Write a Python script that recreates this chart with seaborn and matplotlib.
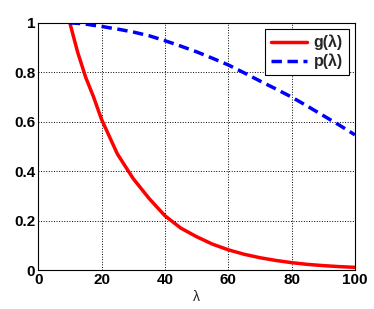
import pandas as pd
import numpy as np
import seaborn as sns
import matplotlib
matplotlib.use('Agg')
import matplotlib.pyplot as plt

# values
lam = [10, 12.5, 15, 17.5, 20, 22.5, 25, 30, 35, 40, 45, 50, 55, 60, 65, 70, 75, 80, 85, 90, 95, 100]
g_vals = [1.0, 0.88, 0.78, 0.70, 0.61, 0.54, 0.47, 0.37, 0.29, 0.22, 0.17, 0.135, 0.105, 0.082,
          0.064, 0.05, 0.039, 0.03, 0.023, 0.018, 0.014, 0.011]
p_vals = [1.0, 0.998, 0.995, 0.99, 0.986, 0.98, 0.975, 0.963, 0.948, 0.928, 0.906, 0.883, 0.857, 0.83,
          0.798, 0.765, 0.733, 0.70, 0.663, 0.625, 0.587, 0.547]

df = pd.DataFrame({'lam': lam, 'g': g_vals, 'p': p_vals})

sns.set_style("white")
plt.rcParams['font.family'] = ['Liberation Sans', 'DejaVu Sans']

fig = plt.figure(figsize=(3.74, 3.09), dpi=100)
ax = fig.add_axes([0.102, 0.126, 0.847, 0.800])

sns.lineplot(data=df, x='lam', y='g', ax=ax, color='#ff0000', linewidth=2.5, label='g(λ)')
sns.lineplot(data=df, x='lam', y='p', ax=ax, color='#0000ff', linewidth=2.5,
             linestyle=(0, (3, 1.6)), label='p(λ)')

ax.set_xlim(0, 100)
ax.set_ylim(0, 1)
ax.set_xticks([0, 20, 40, 60, 80, 100])
ax.set_yticks([0, 0.2, 0.4, 0.6, 0.8, 1])
ax.set_yticklabels(['0', '0.2', '0.4', '0.6', '0.8', '1'])
ax.grid(True, color='black', linestyle=':', linewidth=0.7)
ax.tick_params(direction='in', length=4, width=0.8, colors='black', labelsize=11, pad=2)
for lbl in ax.get_xticklabels() + ax.get_yticklabels():
    lbl.set_fontweight('bold')
for spine in ax.spines.values():
    spine.set_linewidth(0.8)
    spine.set_color('black')

ax.set_xlabel('λ', fontsize=10, labelpad=2)
ax.set_ylabel('')

leg = ax.legend(loc='upper right', frameon=True, fancybox=False, handlelength=2.3,
                borderaxespad=0.4, prop={'weight': 'bold', 'size': 11.5},
                handletextpad=0.4, borderpad=0.35, labelspacing=0.2)
leg.get_frame().set_edgecolor('black')
leg.get_frame().set_linewidth(0.8)
leg.get_frame().set_alpha(1)

fig.savefig('out.png', dpi=100, facecolor='white')
